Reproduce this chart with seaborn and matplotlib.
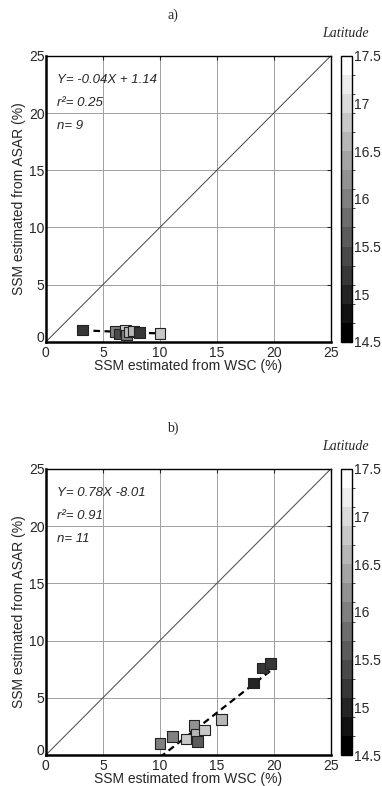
import numpy as np
import pandas as pd
import matplotlib
matplotlib.use("Agg")
import matplotlib.pyplot as plt
import matplotlib.colors as mcolors
import matplotlib.transforms as mtrans
import seaborn as sns

# panel a
a_wsc = [3.2, 6.1, 6.4, 7.0, 7.1, 7.3, 7.7, 8.2, 10.0]
a_asar = [1.05, 0.9, 0.7, 1.0, 0.6, 0.85, 0.95, 0.8, 0.75]
a_lat = [15.2, 16.0, 15.4, 16.8, 16.0, 16.6, 16.6, 15.1, 16.8]
a_fit = (-0.04, 1.14)
a_text = ["Y= -0.04X + 1.14", "r²= 0.25", "n= 9"]

# panel b
b_wsc = [10.0, 11.1, 12.3, 13.0, 13.2, 13.3, 13.9, 15.4, 18.2, 19.0, 19.7]
b_asar = [1.0, 1.6, 1.4, 2.6, 1.85, 1.2, 2.2, 3.1, 6.3, 7.6, 8.0]
b_lat = [16.0, 16.0, 16.8, 16.2, 16.6, 15.5, 16.8, 16.6, 15.0, 15.2, 15.2]
b_fit = (0.78, -8.01)
b_text = ["Y= 0.78X -8.01", "r²= 0.91", "n= 11"]

ticks = [0, 5, 10, 15, 20, 25]
cb_ticks = [14.5, 15, 15.5, 16, 16.5, 17, 17.5]

sns.set_style("white")
plt.rcParams["font.family"] = ["Liberation Sans", "DejaVu Sans"]

cmap = plt.get_cmap("gray", 15)
bounds = np.linspace(14.5, 17.5, 16)
norm = mcolors.BoundaryNorm(bounds, cmap.N)

fig = plt.figure(figsize=(3.82, 7.86), dpi=100)


def panel(bottom, wsc, asar, lat, fit, lines, label):
    ax = fig.add_axes([0.120, bottom, 0.746, 0.364])
    cax = fig.add_axes([0.893, bottom, 0.029, 0.364])
    df = pd.DataFrame({"WSC": wsc, "ASAR": asar, "Lat": lat})

    ax.plot([0, 25], [0, 25], color="#444444", lw=0.7, zorder=1)
    xs = np.array([min(wsc), max(wsc)])
    fit_df = pd.DataFrame({"x": xs, "y": fit[0] * xs + fit[1]})
    sns.lineplot(data=fit_df, x="x", y="y", ax=ax, color="black",
                 lw=1.6, linestyle=(0, (3, 2)), zorder=2)
    sns.scatterplot(data=df, x="WSC", y="ASAR", hue="Lat", palette=cmap,
                    hue_norm=norm, marker="s", s=58, edgecolor="#222222",
                    linewidth=0.8, legend=False, ax=ax, zorder=3)

    ax.set_xlim(0, 25)
    ax.set_ylim(0, 25)
    ax.set_xticks(ticks)
    ax.set_yticks(ticks)
    ax.grid(True, color="#a0a0a0", lw=0.7)
    ax.set_axisbelow(True)
    ax.tick_params(direction="in", length=3, labelsize=10, pad=1,
                   top=True, right=True)
    ax.tick_params(axis="x", pad=3)
    # lift the y "0" a little so it sits beside the x "0" like the original
    lab0 = ax.get_yticklabels()[0]
    lab0.set_transform(lab0.get_transform() +
                       mtrans.ScaledTranslation(0, 4 / 72, fig.dpi_scale_trans))
    for s in ax.spines.values():
        s.set_color("black")
        s.set_linewidth(1.0)
    ax.spines["left"].set_linewidth(1.8)
    ax.spines["bottom"].set_linewidth(1.8)
    ax.set_xlabel("SSM estimated from WSC (%)", fontsize=10, labelpad=-1)
    ax.set_ylabel("SSM estimated from ASAR (%)", fontsize=10, labelpad=2)

    for i, t in enumerate(lines):
        ax.text(1.0, 22.9 - 2.0 * i, t, fontsize=9.5, style="italic",
                va="center", ha="left")

    sm = plt.cm.ScalarMappable(cmap=cmap, norm=norm)
    cb = fig.colorbar(sm, cax=cax, ticks=cb_ticks)
    cb.ax.set_yticklabels([f"{v:g}" for v in cb_ticks])
    cb.ax.tick_params(labelsize=10, direction="in", length=3, pad=1,
                      left=True, right=True)
    cb.outline.set_edgecolor("black")
    cb.outline.set_linewidth(1.0)

    top = bottom + 0.364
    fig.text(0.453, top + 0.052, label, fontsize=10,
             family=["Liberation Serif", "DejaVu Serif"], ha="center", va="center")
    fig.text(0.905, top + 0.029, "Latitude", fontsize=10, style="italic",
             family=["Liberation Serif", "DejaVu Serif"], ha="center", va="center")


panel(0.565, a_wsc, a_asar, a_lat, a_fit, a_text, "a)")
panel(0.0394, b_wsc, b_asar, b_lat, b_fit, b_text, "b)")

fig.savefig("out.png", dpi=100)
